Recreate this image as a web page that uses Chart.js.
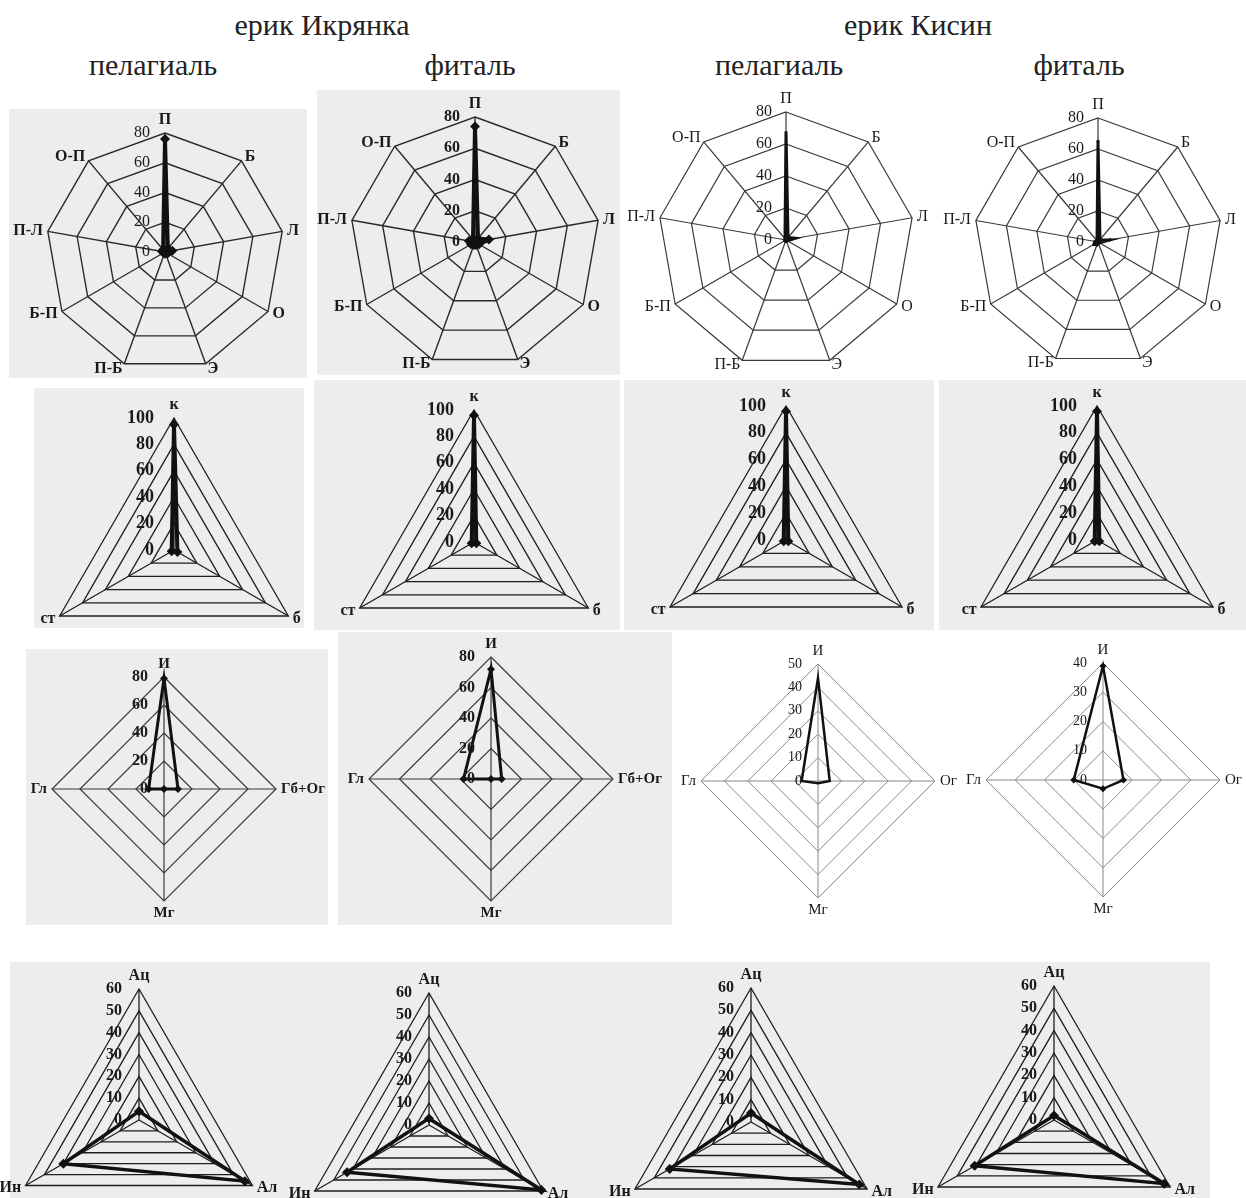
<!DOCTYPE html>
<html lang="ru">
<head>
<meta charset="utf-8">
<title>Радарные диаграммы: ерик Икрянка и ерик Кисин</title>
<script src="https://cdn.jsdelivr.net/npm/chart.js@4.4.1/dist/chart.umd.min.js"></script>
<style>
  html, body { margin: 0; padding: 0; background: #fff; }
  #page { position: relative; width: 1246px; height: 1198px; overflow: hidden;
          font-family: "Liberation Serif", "Times New Roman", serif; color: #222; }
  .hdr { position: absolute; font-size: 30px; transform: translate(-50%, -50%); white-space: nowrap; }
  .box { position: absolute; background: #ededed; }
  canvas { position: absolute; }
</style>
</head>
<body>
<div id="page">
  <div class="box" style="left:9px;top:109px;width:298px;height:269px"></div>
  <div class="box" style="left:317px;top:90px;width:303px;height:285px"></div>
  <div class="box" style="left:34px;top:388px;width:270px;height:240px"></div>
  <div class="box" style="left:314px;top:380px;width:306px;height:250px"></div>
  <div class="box" style="left:624px;top:380px;width:310px;height:250px"></div>
  <div class="box" style="left:939px;top:380px;width:307px;height:250px"></div>
  <div class="box" style="left:26px;top:649px;width:302px;height:276px"></div>
  <div class="box" style="left:338px;top:632px;width:334px;height:293px"></div>
  <div class="box" style="left:10px;top:962px;width:1200px;height:236px"></div>

  <div class="hdr" style="left:322px;top:25px">ерик Икрянка</div>
  <div class="hdr" style="left:918px;top:25px">ерик Кисин</div>
  <div class="hdr" style="left:153px;top:65px">пелагиаль</div>
  <div class="hdr" style="left:470px;top:65px">фиталь</div>
  <div class="hdr" style="left:779px;top:65px">пелагиаль</div>
  <div class="hdr" style="left:1079px;top:65px">фиталь</div>
</div>
<script>
// ряд 1: 9 осей
const axes9 = ['П', 'Б', 'Л', 'О', 'Э', 'П-Б', 'Б-П', 'П-Л', 'О-П'];
const ticks9 = [0, 20, 40, 60, 80];
const ikrPel9 = [76, 3, 5, 2, 1, 1, 1, 2, 2];
const ikrFit9 = [74, 3, 9, 3, 2, 2, 3, 4, 2];
const kisPel9 = [68, 2, 6, 1, 1, 1, 1, 1, 1];
const kisFit9 = [65, 2, 8, 1, 1, 2, 3, 2, 1];

// ряд 2: к / б / ст
const axes3 = ['к', 'б', 'ст'];
const ticks3 = [0, 20, 40, 60, 80, 100];
const ikrPel3 = [95, 3, 2];
const ikrFit3 = [96, 2, 2];
const kisPel3 = [96, 2, 2];
const kisFit3 = [96, 2, 2];

// ряд 3: 4 оси
const axes4ikr = ['И', 'Гб+Ог', 'Мг', 'Гл'];
const axes4kis = ['И', 'Ог', 'Мг', 'Гл'];
const ticks4ikr = [0, 20, 40, 60, 80];
const ticks4kisPel = [0, 10, 20, 30, 40, 50];
const ticks4kisFit = [0, 10, 20, 30, 40];
const ikrPel4 = [79, 10, 0, 11];
const ikrFit4 = [72, 7, 0, 18];
const kisPel4 = [44, 5, 1, 7];
const kisFit4 = [39, 7, 3, 10];

// ряд 4: Ац / Ал / Ин
const axesA = ['Ац', 'Ал', 'Ин'];
const ticksA = [0, 10, 20, 30, 40, 50, 60];
const ikrPelA = [4, 56, 40];
const ikrFitA = [3, 59, 43];
const kisPelA = [4, 56, 42];
const kisFitA = [2, 57, 41];

const serif = '"Liberation Serif", "Times New Roman", serif';

// подписи осей и шкалы рисуем сами, чтобы задать точный радиус
const radarText = {
  id: 'radarText',
  afterDraw(chart, args, o) {
    const s = chart.scales.r;
    const ctx = chart.ctx;
    ctx.save();
    ctx.fillStyle = '#1a1a1a';
    ctx.font = o.tickFont;
    ctx.textAlign = 'right';
    ctx.textBaseline = 'middle';
    s.ticks.forEach(t => {
      const d = s.getDistanceFromCenterForValue(t.value);
      ctx.fillText(t.label, s.xCenter - o.tickOffset, s.yCenter - d);
    });
    ctx.font = o.labelFont;
    chart.data.labels.forEach((lab, i) => {
      const a = s.getIndexAngle(i);
      const p = s.getPointPosition(i, s.drawingArea + o.gap);
      const sn = Math.sin(a), cs = Math.cos(a);
      if (Math.abs(sn) < 0.05) {
        ctx.textAlign = 'center';
        ctx.textBaseline = cs > 0 ? 'bottom' : 'top';
      } else {
        ctx.textAlign = sn > 0 ? 'left' : 'right';
        ctx.textBaseline = 'middle';
      }
      ctx.fillText(lab, p.x, p.y);
    });
    ctx.restore();
  }
};

const styles = {
  ikr9: { label: 'bold 16px', tick: '16px', line: 4, pt: 5, grid: '#2a2a2a', gw: 1.4, off: 15 },
  ikr9b: { label: 'bold 16px', tick: 'bold 16px', line: 4, pt: 5, grid: '#2a2a2a', gw: 1.4, off: 15 },
  kis9: { label: '16px', tick: '16px', line: 3, pt: 0, grid: '#3a3a3a', gw: 1.2, off: 14 },
  kis9p: { label: '16px', tick: '16px', line: 3, pt: 2, grid: '#3a3a3a', gw: 1.2, off: 14 },
  tri: { label: 'bold 16px', tick: 'bold 18px', line: 4, pt: 5, grid: '#1e1e1e', gw: 1.3, off: 20 },
  dia: { label: 'bold 15px', tick: 'bold 16px', line: 3, pt: 4, grid: '#3a3a3a', gw: 1.2, off: 16 },
  diaK: { label: '15px', tick: '14px', line: 2.5, pt: 0, grid: '#888', gw: 1, off: 16 },
  diaKp: { label: '15px', tick: '14px', line: 2.5, pt: 3.5, grid: '#888', gw: 1, off: 16 },
  ac: { label: 'bold 16px', tick: 'bold 16px', line: 3.5, pt: 5, grid: '#1e1e1e', gw: 1.3, off: 17 }
};

const panels = [
  { labels: axes9, values: ikrPel9, ticks: ticks9, cx: 165, cy: 252, r: 119, st: 'ikr9' },
  { labels: axes9, values: ikrFit9, ticks: ticks9, cx: 475, cy: 242, r: 125, st: 'ikr9b' },
  { labels: axes9, values: kisPel9, ticks: ticks9, cx: 786, cy: 240, r: 128, st: 'kis9' },
  { labels: axes9, values: kisFit9, ticks: ticks9, cx: 1098, cy: 242, r: 124, st: 'kis9p' },

  { labels: axes3, values: ikrPel3, ticks: ticks3, cx: 174, cy: 550, r: 132, st: 'tri' },
  { labels: axes3, values: ikrFit3, ticks: ticks3, cx: 474, cy: 542, r: 132, st: 'tri' },
  { labels: axes3, values: kisPel3, ticks: ticks3, cx: 786, cy: 540, r: 134, st: 'tri' },
  { labels: axes3, values: kisFit3, ticks: ticks3, cx: 1097, cy: 540, r: 134, st: 'tri' },

  { labels: axes4ikr, values: ikrPel4, ticks: ticks4ikr, cx: 164, cy: 789, r: 112, st: 'dia' },
  { labels: axes4ikr, values: ikrFit4, ticks: ticks4ikr, cx: 491, cy: 779, r: 122, st: 'dia' },
  { labels: axes4kis, values: kisPel4, ticks: ticks4kisPel, cx: 818, cy: 781, r: 117, st: 'diaK' },
  { labels: axes4kis, values: kisFit4, ticks: ticks4kisFit, cx: 1103, cy: 780, r: 117, st: 'diaKp' },

  { labels: axesA, values: ikrPelA, ticks: ticksA, cx: 139, cy: 1120, r: 131, st: 'ac' },
  { labels: axesA, values: ikrFitA, ticks: ticksA, cx: 429, cy: 1125, r: 132, st: 'ac' },
  { labels: axesA, values: kisPelA, ticks: ticksA, cx: 751, cy: 1122, r: 134, st: 'ac' },
  { labels: axesA, values: kisFitA, ticks: ticksA, cx: 1054, cy: 1120, r: 134, st: 'ac' }
];

const PAD = 60;
const page = document.getElementById('page');

panels.forEach(p => {
  const s = styles[p.st];
  const size = 2 * p.r + 2 * PAD;
  const cv = document.createElement('canvas');
  cv.width = size;
  cv.height = size;
  cv.style.left = (p.cx - p.r - PAD) + 'px';
  cv.style.top = (p.cy - p.r - PAD) + 'px';
  page.appendChild(cv);

  new Chart(cv, {
    type: 'radar',
    data: {
      labels: p.labels,
      datasets: [{
        data: p.values,
        borderColor: '#111',
        backgroundColor: '#111',
        borderWidth: s.line,
        fill: false,
        pointStyle: 'rectRot',
        pointRadius: s.pt,
        pointBackgroundColor: '#111',
        pointBorderWidth: 0
      }]
    },
    options: {
      responsive: false,
      animation: false,
      layout: { padding: PAD },
      plugins: {
        legend: { display: false },
        tooltip: { enabled: false },
        radarText: {
          tickFont: s.tick + ' ' + serif,
          labelFont: s.label + ' ' + serif,
          tickOffset: s.off,
          gap: 5
        }
      },
      scales: {
        r: {
          min: p.ticks[0],
          max: p.ticks[p.ticks.length - 1],
          ticks: { display: false, stepSize: p.ticks[1] - p.ticks[0] },
          pointLabels: { display: false },
          grid: { color: s.grid, lineWidth: s.gw },
          angleLines: { color: s.grid, lineWidth: s.gw }
        }
      }
    },
    plugins: [radarText]
  });
});
</script>
</body>
</html>
